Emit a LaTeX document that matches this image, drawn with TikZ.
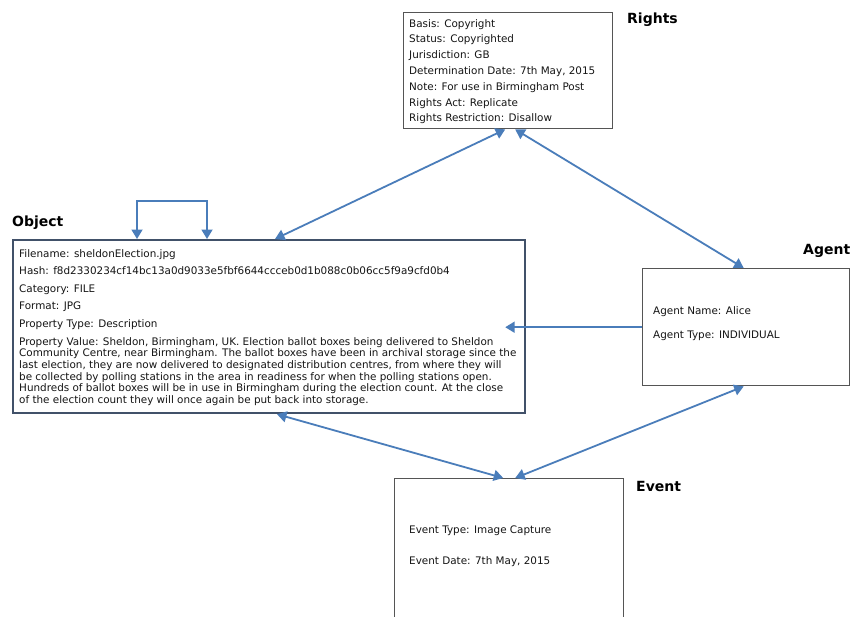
\documentclass[tikz,border=0pt]{standalone}
\usepackage{fontspec}
\setmainfont{DejaVu Sans}
\usetikzlibrary{arrows.meta,calc}

\definecolor{linkblue}{HTML}{4A7DBA}
\definecolor{boxframe}{HTML}{555555}
\definecolor{objframe}{HTML}{415169}
\definecolor{ink}{HTML}{151515}

% a stack of lines whose baseline is that of its first line
\newcommand{\linestack}[2]{\vtop{\baselineskip=#1\lineskiplimit=-30pt\relax #2}}

\tikzset{
  entitybox/.style={draw=boxframe, line width=1.4pt, fill=white, anchor=north west, inner sep=0pt},
  info/.style={anchor=base west, inner sep=0pt, text=ink, font=\fontsize{10.4}{12}\selectfont},
  entitytitle/.style={anchor=base west, inner sep=0pt, text=black, font=\bfseries\fontsize{14}{16}\selectfont},
  tipshape/.tip={Triangle[length=9.5pt,width=11pt]},
  relation/.style={draw=linkblue, line width=1.8pt, tipshape-tipshape},
  oneway/.style={draw=linkblue, line width=1.8pt, -tipshape},
}

\begin{document}
\begin{tikzpicture}[x=1pt,y=-1pt]
\useasboundingbox (0,0) rectangle (850,616);
\fill[white] (0,0) rectangle (850,616);
\clip (0,0) rectangle (850,616);

% entity frames
\node[entitybox, minimum width=209pt, minimum height=116pt] (rightsbox) at (403,12) {};
\node[entitybox, draw=objframe, line width=2.2pt, minimum width=512pt, minimum height=173pt] (objbox) at (12,239) {};
\node[entitybox, minimum width=207pt, minimum height=117pt] (agentbox) at (642,268) {};
\node[entitybox, minimum width=229pt, minimum height=170pt] (eventbox) at (394,478) {};

% entity titles
\node[entitytitle] (rightstitle) at (627,23) {Rights};
\node[entitytitle] (objtitle) at (12,226) {Object};
\node[entitytitle] (agenttitle) at (803,254) {Agent};
\node[entitytitle] (eventtitle) at (636,491) {Event};

% rights attributes
\node[info] (rightstext) at (409,27) {\linestack{15.83pt}{%
  \hbox{Basis: Copyright}
  \hbox{Status: Copyrighted}
  \hbox{Jurisdiction: GB}
  \hbox{Determination Date: 7th May, 2015}
  \hbox{Note: For use in Birmingham Post}
  \hbox{Rights Act: Replicate}
  \hbox{Rights Restriction: Disallow}}};

% object attributes
\node[info] (objtext) at (19,257) {\linestack{17.6pt}{%
  \hbox{Filename: sheldonElection.jpg}
  \hbox{Hash: f8d2330234cf14bc13a0d9033e5fbf6644ccceb0d1b088c0b06cc5f9a9cfd0b4}
  \hbox{Category: FILE}
  \hbox{Format: JPG}
  \hbox{Property Type: Description}
  \hbox{Property Value: Sheldon, Birmingham, UK. Election ballot boxes being delivered to Sheldon}
  \baselineskip=11.7pt
  \hbox{Community Centre, near Birmingham. The ballot boxes have been in archival storage since the}
  \hbox{last election, they are now delivered to designated distribution centres, from where they will}
  \hbox{be collected by polling stations in the area in readiness for when the polling stations open.}
  \hbox{Hundreds of ballot boxes will be in use in Birmingham during the election count. At the close}
  \hbox{of the election count they will once again be put back into storage.}}};

% agent attributes
\node[info] (agenttext) at (653,314) {\linestack{24pt}{%
  \hbox{Agent Name: Alice}
  \hbox{Agent Type: INDIVIDUAL}}};

% event attributes
\node[info] (eventtext) at (409,533) {\linestack{31pt}{%
  \hbox{Event Type: Image Capture}
  \hbox{Event Date: 7th May, 2015}}};

% relations
\draw[relation] ([xshift=-3pt]rightsbox.south) -- ([xshift=263pt]objbox.north west);
\draw[relation] ([xshift=7pt]rightsbox.south) -- ([xshift=-2.5pt]agentbox.north);
\draw[relation] ([xshift=265pt]objbox.south west) -- ([xshift=-6pt]eventbox.north);
\draw[relation] ([xshift=-2.5pt]agentbox.south) -- ([xshift=6pt]eventbox.north);
\draw[oneway] (agentbox.west) -- ($(objbox.east |- agentbox.west)+(-21,0)$);
\draw[relation] ([xshift=125pt]objbox.north west) -- ++(0,-38) -| ([xshift=195pt]objbox.north west);
\end{tikzpicture}
\end{document}
